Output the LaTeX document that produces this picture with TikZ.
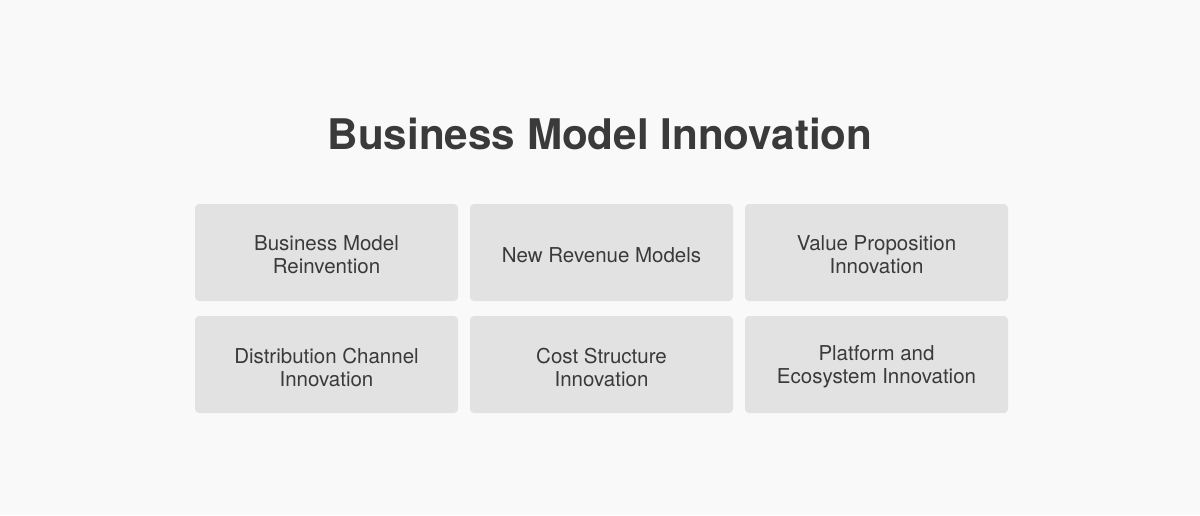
\documentclass[tikz,border=0pt]{standalone}
\usepackage{fontspec}
\setmainfont{TeX Gyre Heros}
\definecolor{bg}{HTML}{F9F9F9}
\definecolor{boxfill}{HTML}{E2E2E2}
\definecolor{txt}{HTML}{3A3A3A}
\begin{document}
\begin{tikzpicture}[x=1pt,y=-1pt,
  cell/.style={draw=none,fill=boxfill,rounded corners=4pt,minimum width=263pt,minimum height=97pt,inner sep=0pt},
  celltext/.style={align=center,text=txt,font=\fontsize{20.5}{23}\selectfont,inner sep=0pt},
  heading/.style={text=txt,font=\fontsize{42.2}{48}\selectfont\bfseries,inner sep=0pt}]
\fill[bg] (0,0) rectangle (1200,515);
\useasboundingbox (0,0) rectangle (1200,515);
\node[heading] (title) at (600,134) {Business Model Innovation};
\node[cell] (b1) at (326.5,252.5) {};
\node[cell] (b2) at (601.5,252.5) {};
\node[cell] (b3) at (876.5,252.5) {};
\node[cell] (b4) at (326.5,364.5) {};
\node[cell] (b5) at (601.5,364.5) {};
\node[cell] (b6) at (876.5,364.5) {};
\node[celltext] (t1) at ([yshift=-2.5pt]b1.center) {Business Model\\Reinvention};
\node[celltext] (t2) at ([yshift=-2.5pt]b2.center) {New Revenue Models};
\node[celltext] (t3) at ([yshift=-2.5pt]b3.center) {Value Proposition\\Innovation};
\node[celltext] (t4) at ([yshift=-2.5pt]b4.center) {Distribution Channel\\Innovation};
\node[celltext] (t5) at ([yshift=-2.5pt]b5.center) {Cost Structure\\Innovation};
\node[celltext] (t6) at ([yshift=-2.5pt]b6.center) {Platform and\\Ecosystem Innovation};
\end{tikzpicture}
\end{document}
